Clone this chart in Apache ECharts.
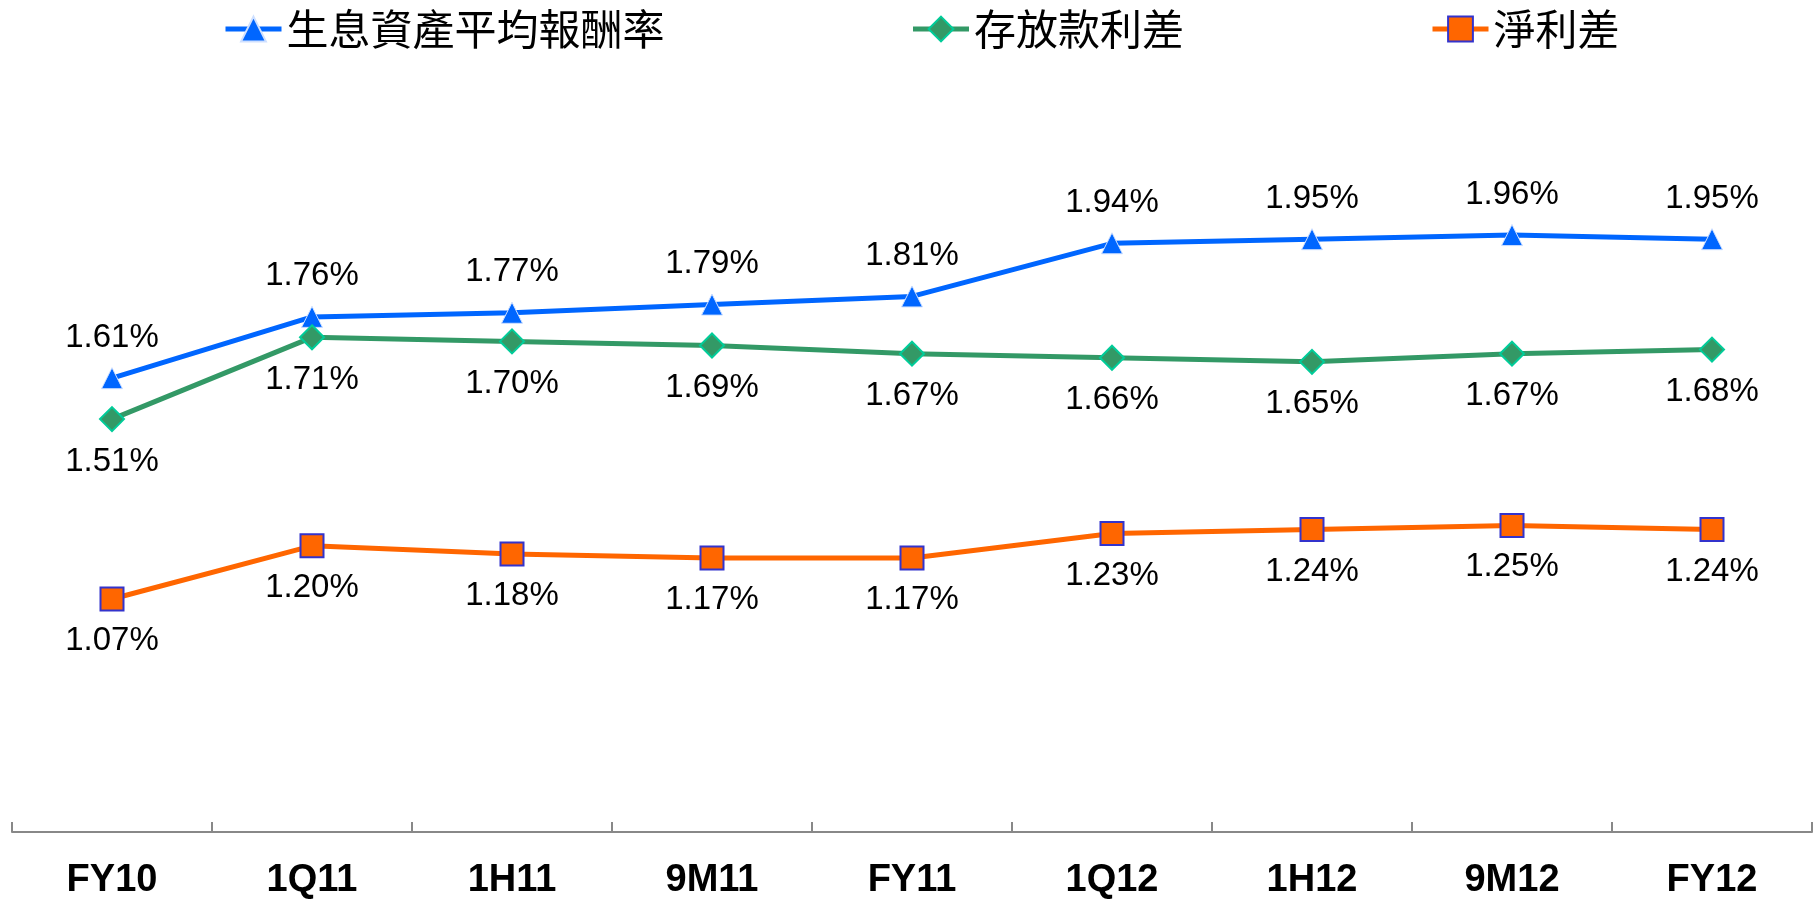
<!DOCTYPE html>
<html>
<head>
<meta charset="utf-8">
<script src="https://cdn.jsdelivr.net/npm/echarts@6/dist/echarts.min.js"></script>
<style>
  html, body { margin: 0; padding: 0; background: #fff; }
  #chart { width: 1814px; height: 900px; }
</style>
</head>
<body>
<div id="chart"></div>
<script>
const categories = ["FY10", "1Q11", "1H11", "9M11", "FY11", "1Q12", "1H12", "9M12", "FY12"];
const yieldOnAssets = [1.61, 1.76, 1.77, 1.79, 1.81, 1.94, 1.95, 1.96, 1.95];
const depositLoanSpread = [1.51, 1.71, 1.70, 1.69, 1.67, 1.66, 1.65, 1.67, 1.68];
const netSpread = [1.07, 1.20, 1.18, 1.17, 1.17, 1.23, 1.24, 1.25, 1.24];

const chart = echarts.init(document.getElementById("chart"));

// shared label style for the percentage texts
function pctLabel(pos, dist) {
  return {
    show: true,
    position: pos,
    distance: dist,
    fontSize: 33,
    color: "#000",
    fontFamily: 'Arial, "Liberation Sans", sans-serif',
    formatter: p => p.value.toFixed(2) + "%"
  };
}

const option = {
  animation: false,
  legend: {
    top: 3,
    left: 218,
    itemGap: 246,
    itemWidth: 56,
    itemHeight: 31,
    lineStyle: { width: 5 },
    textStyle: {
      fontSize: 42,
      color: "#000",
      fontFamily: '"Noto Sans CJK TC", sans-serif'
    },
    data: ["生息資產平均報酬率", "存放款利差", "淨利差"]
  },
  grid: { left: 12, right: 2, top: 137, bottom: 62 },
  xAxis: {
    type: "category",
    data: categories,
    boundaryGap: true,
    axisLine: { lineStyle: { color: "#888", width: 2 } },
    axisTick: { show: true, interval: 0, inside: true, length: 10, lineStyle: { color: "#888", width: 2 } },
    axisLabel: {
      margin: 30,
      fontSize: 38,
      fontWeight: "bold",
      color: "#000",
      fontFamily: 'Arial, "Liberation Sans", sans-serif'
    }
  },
  yAxis: {
    type: "value",
    min: 0.5,
    max: 2.2,
    show: false,
    splitLine: { show: false }
  },
  series: [
    {
      name: "生息資產平均報酬率",
      type: "line",
      data: yieldOnAssets,
      symbol: "triangle",
      symbolSize: [21, 21],
      lineStyle: { color: "#0066ff", width: 5 },
      itemStyle: { color: "#0066ff", borderColor: "#cfe0ff", borderWidth: 1 },
      label: pctLabel("top", 13)
    },
    {
      name: "存放款利差",
      type: "line",
      data: depositLoanSpread,
      symbol: "diamond",
      symbolSize: 24,
      lineStyle: { color: "#339966", width: 5 },
      itemStyle: { color: "#339966", borderColor: "#00cc99", borderWidth: 2 },
      label: pctLabel("bottom", 13)
    },
    {
      name: "淨利差",
      type: "line",
      data: netSpread,
      symbol: "rect",
      symbolSize: 23,
      lineStyle: { color: "#ff6600", width: 5 },
      itemStyle: { color: "#ff6600", borderColor: "#3333cc", borderWidth: 2 },
      label: pctLabel("bottom", 13)
    }
  ]
};

chart.setOption(option);
</script>
</body>
</html>
